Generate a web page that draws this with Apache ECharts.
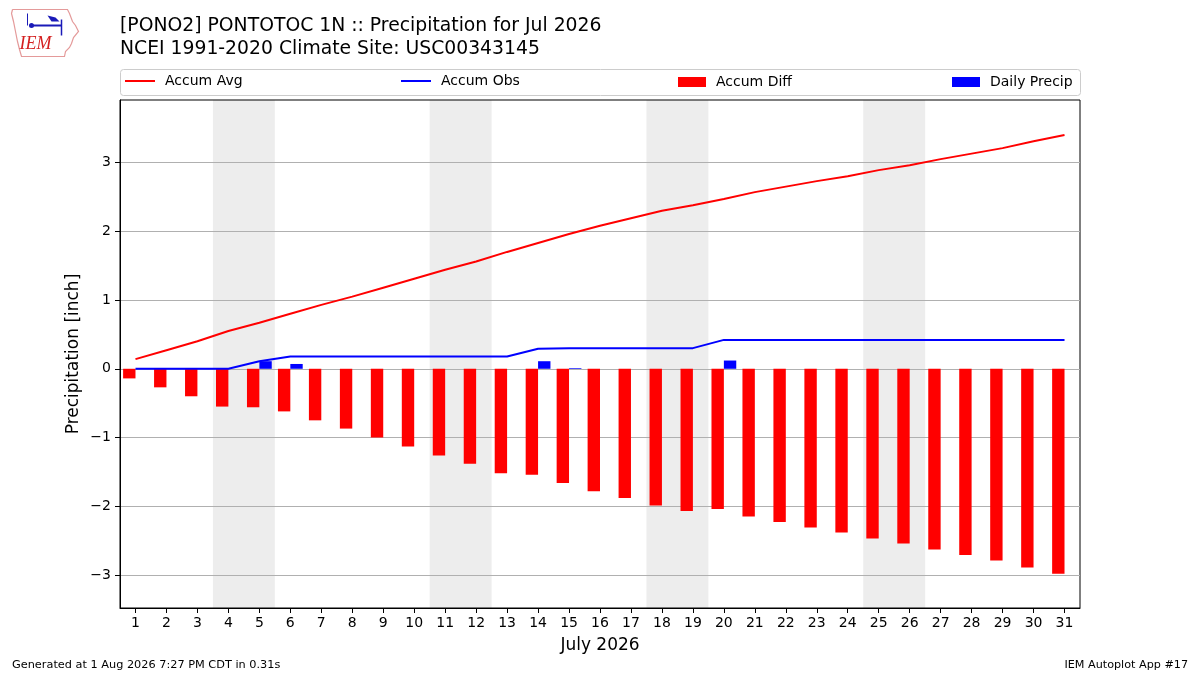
<!DOCTYPE html>
<html>
<head>
<meta charset="utf-8">
<script src="https://cdn.jsdelivr.net/npm/echarts@6/dist/echarts.min.js"></script>
<style>
html,body{margin:0;padding:0;background:#fff;}
#chart{width:1200px;height:675px;}
</style>
</head>
<body>
<div id="chart"></div>
<script>
// ---- data ----
const days = [1,2,3,4,5,6,7,8,9,10,11,12,13,14,15,16,17,18,19,20,21,22,23,24,25,26,27,28,29,30,31];
const accumAvg = [0.14,0.27,0.40,0.55,0.67,0.80,0.93,1.05,1.18,1.31,1.44,1.56,1.70,1.83,1.96,2.08,2.19,2.30,2.38,2.47,2.57,2.65,2.73,2.80,2.89,2.96,3.05,3.13,3.21,3.31,3.40];
const accumObs = [0,0,0,0,0.11,0.18,0.18,0.18,0.18,0.18,0.18,0.18,0.18,0.29,0.30,0.30,0.30,0.30,0.30,0.42,0.42,0.42,0.42,0.42,0.42,0.42,0.42,0.42,0.42,0.42,0.42];
const accumDiff = [-0.14,-0.27,-0.40,-0.55,-0.56,-0.62,-0.75,-0.87,-1.00,-1.13,-1.26,-1.38,-1.52,-1.54,-1.66,-1.78,-1.88,-1.99,-2.07,-2.04,-2.15,-2.23,-2.31,-2.38,-2.47,-2.54,-2.63,-2.71,-2.79,-2.89,-2.98];
const dailyPrecip = [0,0,0,0,0.11,0.07,0,0,0,0,0,0,0,0.11,0.01,0,0,0,0,0.12,0,0,0,0,0,0,0,0,0,0,0];
const weekendStarts = [4, 11, 18, 25]; // Saturdays, shaded Sat-Sun
const yTicks = [-3,-2,-1,0,1,2,3];
const titleLines = ['[PONO2] PONTOTOC 1N :: Precipitation for Jul 2026', 'NCEI 1991-2020 Climate Site: USC00343145'];

const FONT = '"DejaVu Sans", sans-serif';
const fmtNum = v => (v < 0 ? '\u2212' + Math.abs(v) : String(v));

function barRender(offsetLeft, offsetRight) {
  return function (params, api) {
    const d = api.value(0), v = api.value(1);
    const p1 = api.coord([d + offsetLeft, v]);
    const p0 = api.coord([d + offsetRight, 0]);
    const x = Math.min(p1[0], p0[0]), y = Math.min(p1[1], p0[1]);
    return {
      type: 'rect',
      shape: { x: x, y: y, width: Math.abs(p0[0] - p1[0]), height: Math.abs(p0[1] - p1[1]) },
      style: { fill: api.visual('color') }
    };
  };
}

const chart = echarts.init(document.getElementById('chart'), null, { renderer: 'canvas' });

const legendCommon = {
  top: 74, selectedMode: false, padding: 0,
  textStyle: { fontFamily: FONT, fontSize: 14, color: '#000', padding: [0, 0, 0, 5] }
};

const option = {
  animation: false,
  backgroundColor: '#fff',
  title: {
    text: titleLines.join('\n'),
    left: 120, top: 15, padding: 0,
    textStyle: { fontFamily: FONT, fontSize: 18.8, fontWeight: 'normal', color: '#000', lineHeight: 23 }
  },
  legend: [
    Object.assign({}, legendCommon, { left: 125, data: [{ name: 'Accum Avg', icon: 'rect' }], itemWidth: 30, itemHeight: 2, top: 74 }),
    Object.assign({}, legendCommon, { left: 401, data: [{ name: 'Accum Obs', icon: 'rect' }], itemWidth: 30, itemHeight: 2, top: 74 }),
    Object.assign({}, legendCommon, { left: 678, data: [{ name: 'Accum Diff', icon: 'rect' }], itemWidth: 28, itemHeight: 10, top: 75 }),
    Object.assign({}, legendCommon, { left: 952, data: [{ name: 'Daily Precip', icon: 'rect' }], itemWidth: 28, itemHeight: 10, top: 75 })
  ],
  grid: {
    left: 120, right: 120, top: 100, bottom: 67,
    show: true, borderColor: '#000', borderWidth: 1, backgroundColor: 'transparent'
  },
  xAxis: {
    type: 'value', min: 0.5, max: 31.5,
    name: 'July 2026', nameLocation: 'middle', nameGap: 29,
    nameTextStyle: { fontFamily: FONT, fontSize: 17, color: '#000' },
    axisLine: { show: true, onZero: false, lineStyle: { color: '#000', width: 1 } },
    axisTick: { show: true, length: 5, customValues: days, lineStyle: { color: '#000' } },
    axisLabel: { customValues: days, fontFamily: FONT, fontSize: 14, color: '#000', margin: 8 },
    splitLine: { show: false }
  },
  yAxis: {
    type: 'value', min: -3.48, max: 3.91,
    name: 'Precipitation [inch]', nameLocation: 'middle', nameGap: 38, nameRotate: 90,
    nameMoveOverlap: false,
    nameTextStyle: { fontFamily: FONT, fontSize: 17, color: '#000' },
    axisLine: { show: true, lineStyle: { color: '#000', width: 1 } },
    axisTick: { show: true, length: 5, customValues: yTicks, lineStyle: { color: '#000' } },
    axisLabel: { customValues: yTicks, fontFamily: FONT, fontSize: 14, color: '#000', margin: 9, formatter: fmtNum },
    splitLine: { show: true, lineStyle: { color: '#b0b0b0', width: 1 } }
  },
  graphic: [
    { type: 'rect', left: 120, top: 69, shape: { width: 960, height: 26, r: 3 },
      style: { fill: '#fff', stroke: '#cccccc', lineWidth: 1 }, z: -10, silent: true },
    { type: 'text', left: 12, top: 660,
      style: { text: 'Generated at 1 Aug 2026 7:27 PM CDT in 0.31s', font: '11.3px ' + FONT, fill: '#000' } },
    { type: 'text', right: 12, top: 660,
      style: { text: 'IEM Autoplot App #17', font: '11.2px ' + FONT, fill: '#000' } },
    { type: 'group', left: 9, top: 7, silent: true, children: [
      { type: 'polyline', shape: { points: [[3,2],[58,2],[60,6],[63,14],[66,18],[69,24],[64,30],[62,36],[60,40],[56,44],[55,49],[12,49],[10,42],[8,34],[6,24],[4,14],[2,6],[3,2]] },
        style: { stroke: '#e49a9a', fill: 'none', lineWidth: 1.2 } },
      { type: 'line', shape: { x1: 20, y1: 18, x2: 52, y2: 18 }, style: { stroke: '#1a1ab8', lineWidth: 2 } },
      { type: 'line', shape: { x1: 18, y1: 6, x2: 18, y2: 18 }, style: { stroke: '#1a1ab8', lineWidth: 1 } },
      { type: 'line', shape: { x1: 52, y1: 12, x2: 52, y2: 28 }, style: { stroke: '#1a1ab8', lineWidth: 1.5 } },
      { type: 'polygon', shape: { points: [[38,8],[46,10],[50,14],[42,14]] }, style: { fill: '#1a1ab8' } },
      { type: 'circle', shape: { cx: 22, cy: 18, r: 2.5 }, style: { fill: '#1a1ab8' } },
      { type: 'text', x: 10, y: 28, style: { text: 'IEM', font: 'italic 18px "Liberation Serif", serif', fill: '#d42020' } }
    ] }
  ],
  series: [
    {
      name: 'Weekend', type: 'custom', z: -1, silent: true,
      data: weekendStarts.map(d => [d, 0]),
      renderItem: function (params, api) {
        const d = api.value(0);
        const p0 = api.coord([d - 0.5, 3.91]);
        const p1 = api.coord([d + 1.5, -3.48]);
        return { type: 'rect', shape: { x: p0[0], y: p0[1], width: p1[0] - p0[0], height: p1[1] - p0[1] },
                 style: { fill: '#ededed' } };
      }
    },
    {
      name: 'Accum Diff', type: 'custom', z: 3,
      itemStyle: { color: '#ff0000' },
      data: days.map((d, i) => [d, accumDiff[i]]),
      renderItem: barRender(-0.4, 0)
    },
    {
      name: 'Daily Precip', type: 'custom', z: 3,
      itemStyle: { color: '#0000ff' },
      data: days.map((d, i) => [d, dailyPrecip[i]]),
      renderItem: barRender(0.4, 0)
    },
    {
      name: 'Accum Avg', type: 'line', z: 4, symbol: 'none',
      itemStyle: { color: '#ff0000' }, lineStyle: { color: '#ff0000', width: 2 },
      data: days.map((d, i) => [d, accumAvg[i]])
    },
    {
      name: 'Accum Obs', type: 'line', z: 4, symbol: 'none',
      itemStyle: { color: '#0000ff' }, lineStyle: { color: '#0000ff', width: 2 },
      data: days.map((d, i) => [d, accumObs[i]])
    }
  ]
};
chart.setOption(option);
</script>
</body>
</html>
